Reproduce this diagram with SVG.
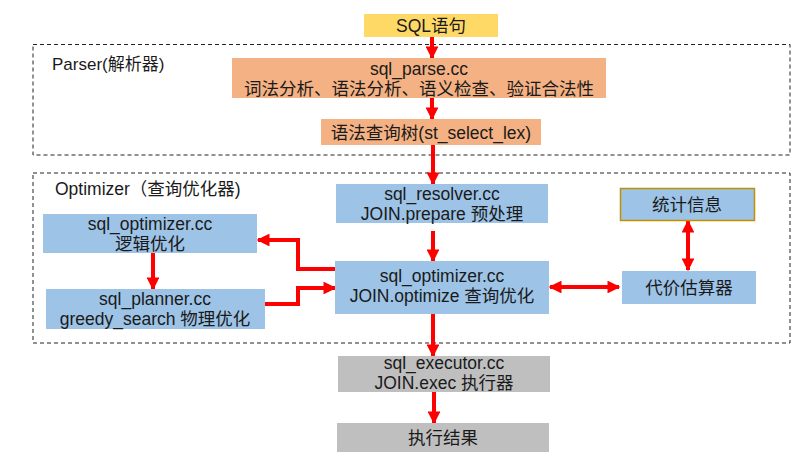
<svg xmlns="http://www.w3.org/2000/svg" width="805" height="467" viewBox="0 0 805 467">
<style>
text{font-family:"Liberation Sans","Noto Sans CJK SC",sans-serif;font-size:17.5px;fill:#1a1a1a;text-anchor:middle}
.lbl{text-anchor:start}
.frame{fill:none;stroke:#222;stroke-width:1;stroke-dasharray:4 3}
.blue{fill:#9DC3E6}
.org{fill:#F4B183}
.gray{fill:#BFBFBF}
.c{fill:none;stroke:#FF0000;stroke-width:4}
</style>
<defs>
<marker id="ah" viewBox="0 0 10 10" refX="9" refY="5" markerWidth="3.2" markerHeight="3.2" orient="auto-start-reverse" markerUnits="strokeWidth">
<path d="M0,0 L10,5 L0,10 z" fill="#FF0000"/>
</marker>
</defs>
<rect class="frame" x="33" y="44.5" width="757" height="110.5"/>
<rect class="frame" x="33" y="173" width="757" height="170"/>
<text class="lbl" x="52" y="70" style="font-size:17px">Parser(解析器)</text>
<text class="lbl" x="55" y="195">Optimizer（查询优化器)</text>
<g id="connectors">
<line class="c" x1="432" y1="37" x2="432" y2="58" marker-end="url(#ah)"/>
<line class="c" x1="432" y1="98" x2="432" y2="119" marker-end="url(#ah)"/>
<line class="c" x1="433" y1="145" x2="433" y2="184" marker-end="url(#ah)"/>
<line class="c" x1="433" y1="231" x2="433" y2="261" marker-end="url(#ah)"/>
<polyline class="c" points="335,269 298,269 298,240 258,240" marker-end="url(#ah)"/>
<line class="c" x1="153" y1="253" x2="153" y2="289" marker-end="url(#ah)"/>
<polyline class="c" points="265,304 298,304 298,288 335,288" marker-end="url(#ah)"/>
<line class="c" x1="550" y1="287" x2="619" y2="287" marker-start="url(#ah)" marker-end="url(#ah)"/>
<line class="c" x1="688" y1="221" x2="688" y2="270" marker-start="url(#ah)" marker-end="url(#ah)"/>
<line class="c" x1="433" y1="314" x2="433" y2="356" marker-end="url(#ah)"/>
<line class="c" x1="434" y1="392" x2="434" y2="423" marker-end="url(#ah)"/>
</g>
<g id="sql">
<rect x="364" y="14" width="134" height="23" fill="#FFD966"/>
<text x="431" y="32">SQL语句</text>
</g>
<g id="parse">
<rect class="org" x="232" y="58" width="374" height="40"/>
<text x="419" y="75">sql_parse.cc</text>
<text x="419" y="94.5">词法分析、语法分析、语义检查、验证合法性</text>
</g>
<g id="tree">
<rect class="org" x="321" y="119" width="220" height="26"/>
<text x="431" y="139">语法查询树(st_select_lex)</text>
</g>
<g id="resolver">
<rect class="blue" x="336" y="184" width="212" height="39"/>
<text x="442" y="200">sql_resolver.cc</text>
<text x="442" y="219.5">JOIN.prepare 预处理</text>
</g>
<g id="optimizer">
<rect class="blue" x="335" y="261" width="214" height="53"/>
<text x="442" y="282">sql_optimizer.cc</text>
<text x="442" y="302">JOIN.optimize 查询优化</text>
</g>
<g id="stats">
<rect class="blue" x="620.5" y="188.5" width="134" height="32" stroke="#BF9000" stroke-width="1.5"/>
<text x="687" y="211">统计信息</text>
</g>
<g id="cost">
<rect class="blue" x="622" y="271" width="134" height="33"/>
<text x="689" y="294">代价估算器</text>
</g>
<g id="logical">
<rect class="blue" x="43" y="214" width="214" height="39"/>
<text x="150" y="230">sql_optimizer.cc</text>
<text x="150" y="249.5">逻辑优化</text>
</g>
<g id="planner">
<rect class="blue" x="46" y="289" width="219" height="40"/>
<text x="155" y="305">sql_planner.cc</text>
<text x="155" y="324.5">greedy_search 物理优化</text>
</g>
<g id="executor">
<rect class="gray" x="338" y="356" width="212" height="36"/>
<text x="444" y="369">sql_executor.cc</text>
<text x="444" y="388.5">JOIN.exec 执行器</text>
</g>
<g id="result">
<rect class="gray" x="337" y="423" width="212" height="29"/>
<text x="443" y="444">执行结果</text>
</g>
</svg>
